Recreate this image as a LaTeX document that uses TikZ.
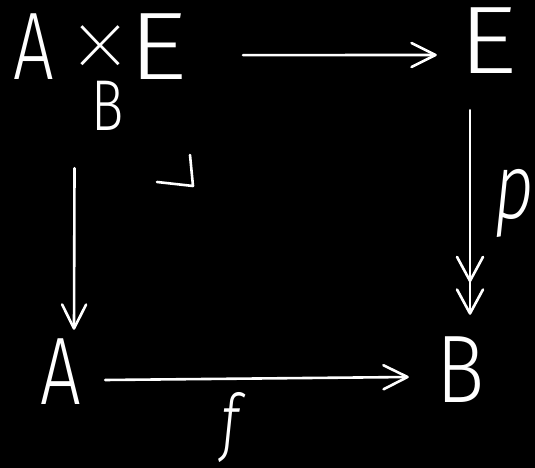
\documentclass[tikz,border=0pt]{standalone}
\usepackage{fontspec}
\newfontfamily\hand[FakeStretch=0.75]{Fira Sans Light}
\newfontfamily\handthin{Fira Sans Thin}
\usetikzlibrary{arrows.meta}
\newcommand\wideE{\scalebox{1.6}[1]{E}}
\begin{document}
\begin{tikzpicture}[x=1pt,y=1pt,
  lbl/.style={text=white, inner sep=0pt, font=\hand\fontsize{96}{96}\selectfont},
  small/.style={lbl, font=\hand\fontsize{72}{72}\selectfont},
  mlbl/.style={lbl, font=\hand\itshape\fontsize{92}{92}\selectfont},
  stroke/.style={draw=white, line width=2.6pt, line cap=round, line join=round},
  arr/.style={stroke, -{Straight Barb[length=24pt,width=24pt,round]}},
  epi/.style={stroke, -{Straight Barb[length=24pt,width=26pt,sep=6pt,round]Straight Barb[length=24pt,width=26pt,round]}}]
  % canvas
  \fill[black] (0,0) rectangle (535,468);
  \useasboundingbox (0,0) rectangle (535,468);

  % objects of the square
  \node[lbl, anchor=base west] (P) at (13,388)
    {A\hspace{14pt}\smash{\raisebox{-8pt}{\handthin\fontsize{136}{136}\selectfont ×}}\hspace{-5pt}\wideE};
  \node[small] (Pb) at (108,362) {B};
  \node[lbl, minimum width=102pt, minimum height=138pt] (E) at (488,427) {\wideE};
  \node[lbl, minimum width=88pt, minimum height=84pt] (A) at (61,96) {A};
  \node[lbl, minimum width=104pt, minimum height=110pt] (B) at (461,98) {\scalebox{1.12}[1]{B}};

  % arrow labels
  \node[mlbl] (p) at (514,265) {p};
  \node[mlbl, font=\hand\itshape\fontsize{74}{74}\selectfont] (f) at (230,40) {f};

  % morphisms
  \draw[arr] ([xshift=55pt,yshift=-8pt]P.east) -- ([yshift=-14pt]E.west);
  \draw[arr] ([xshift=-26pt,yshift=-88pt]P.south) -- ([xshift=13pt]A.north);
  \draw[epi] ([xshift=-18pt]E.south) -- ([xshift=9pt]B.north);
  \draw[arr] ([yshift=-8pt]A.east) -- ([yshift=-7pt]B.west);

  % pullback corner mark
  \draw[stroke] (157,286) -- (193,282) -- (190,313);
\end{tikzpicture}
\end{document}
